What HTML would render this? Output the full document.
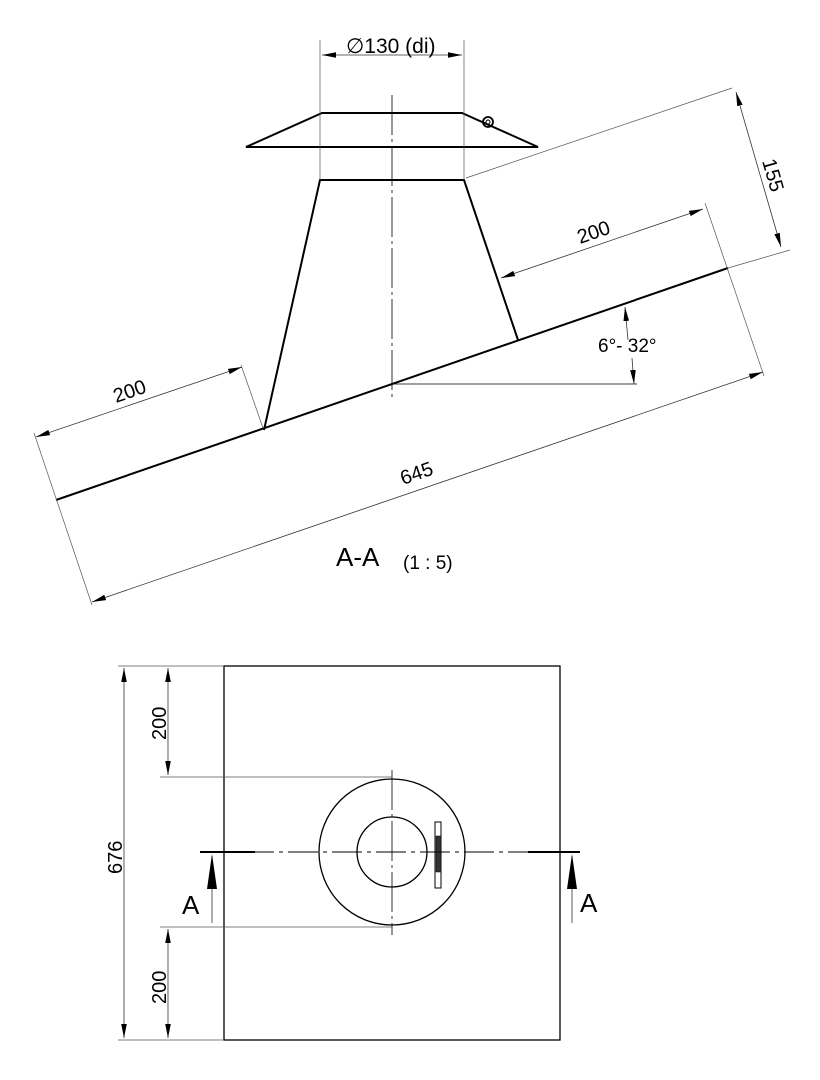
<!DOCTYPE html>
<html><head><style>html,body{margin:0;padding:0;background:#fff}svg{display:block}</style></head>
<body>
<svg width="820" height="1080" viewBox="0 0 820 1080" xmlns="http://www.w3.org/2000/svg" font-family="Liberation Sans, sans-serif">
<defs>
<marker id="ar" viewBox="0 0 10 4" refX="10" refY="2" markerWidth="14" markerHeight="6" markerUnits="userSpaceOnUse" orient="auto-start-reverse"><path d="M0,0L10,2L0,4z" fill="#000"/></marker>
</defs>
<g stroke="#000" fill="none">
<g stroke-width="2">
<polyline points="56,500 728,268"/>
<polyline points="264,430 320,180 464,180 518,340"/>
<polygon points="246,147 322,113 462,113 538,147"/>
</g>
<line x1="392" y1="95" x2="392" y2="400" stroke-width="0.8" stroke-dasharray="40,4,3,4"/>
<line x1="392" y1="384" x2="637" y2="384" stroke-width="0.7"/>
<g stroke-width="0.7" stroke="#555">
<line x1="320" y1="40" x2="320" y2="180"/>
<line x1="464" y1="40" x2="464" y2="180"/>
<line x1="466" y1="178" x2="732" y2="88"/>
<line x1="728" y1="268" x2="790" y2="250"/>
<line x1="705" y1="203" x2="764" y2="376"/>
<line x1="34" y1="433" x2="92" y2="605"/>
<line x1="241" y1="365" x2="263" y2="428"/>
</g>
<g stroke-width="0.8" stroke="#333">
<line x1="322" y1="55" x2="462" y2="55" marker-start="url(#ar)" marker-end="url(#ar)"/>
<line x1="736" y1="92" x2="781" y2="247" marker-start="url(#ar)" marker-end="url(#ar)"/>
<line x1="501" y1="278" x2="703" y2="209" marker-start="url(#ar)" marker-end="url(#ar)"/>
<line x1="36" y1="437" x2="242" y2="367" marker-start="url(#ar)" marker-end="url(#ar)"/>
<line x1="92" y1="602" x2="763" y2="372" marker-start="url(#ar)" marker-end="url(#ar)"/>
<line x1="628" y1="340" x2="625" y2="307" marker-end="url(#ar)"/>
<line x1="632" y1="358" x2="634" y2="384" marker-end="url(#ar)"/>
</g>
<circle cx="488" cy="122" r="5" stroke-width="1.8"/>
<circle cx="488" cy="122" r="2" stroke-width="1"/>

<rect x="224" y="666" width="336" height="374" stroke-width="1.3"/>
<circle cx="392" cy="852" r="73" stroke-width="1.3"/>
<circle cx="392" cy="852" r="35" stroke-width="1.3"/>
<rect x="435" y="822" width="6" height="66" stroke-width="1"/>
<rect x="436" y="836" width="5" height="36" fill="#333" stroke-width="0.5"/>
<line x1="392" y1="770" x2="392" y2="935" stroke-width="0.8" stroke-dasharray="40,4,3,4"/>
<line x1="200" y1="852" x2="580" y2="852" stroke-width="1" stroke-dasharray="30,5,4,5"/>
<line x1="200" y1="852" x2="255" y2="852" stroke-width="2"/>
<line x1="528" y1="852" x2="580" y2="852" stroke-width="2"/>
<g stroke-width="0.7" stroke="#555">
<line x1="118" y1="666" x2="224" y2="666"/>
<line x1="118" y1="1040" x2="224" y2="1040"/>
<line x1="160" y1="777" x2="392" y2="777"/>
<line x1="160" y1="927" x2="392" y2="927"/>
</g>
<g stroke-width="0.8" stroke="#333">
<line x1="124" y1="668" x2="124" y2="1038" marker-start="url(#ar)" marker-end="url(#ar)"/>
<line x1="168" y1="668" x2="168" y2="775" marker-start="url(#ar)" marker-end="url(#ar)"/>
<line x1="168" y1="929" x2="168" y2="1038" marker-start="url(#ar)" marker-end="url(#ar)"/>
<line x1="212" y1="923" x2="212" y2="856"/>
<line x1="572" y1="923" x2="572" y2="856"/>
</g>
<polygon points="212,854 207,889 217,889" fill="#000" stroke="none"/>
<polygon points="572,854 567,889 577,889" fill="#000" stroke="none"/>
</g>
<g fill="#000" font-size="20">
<text x="346" y="53" font-size="21">∅130 (di)</text>
<text x="0" y="0" transform="translate(762,161) rotate(74)">155</text>
<text x="0" y="0" transform="translate(580,244) rotate(-19)">200</text>
<text x="0" y="0" transform="translate(116,403) rotate(-19)">200</text>
<text x="0" y="0" transform="translate(403,485) rotate(-19)">645</text>
<text x="598" y="352" font-size="19">6°- 32°</text>
<text x="336" y="566" font-size="26">A-A</text>
<text x="403" y="569" font-size="19">(1 : 5)</text>
<text x="0" y="0" transform="translate(122,874) rotate(-90)">676</text>
<text x="0" y="0" transform="translate(166,740) rotate(-90)">200</text>
<text x="0" y="0" transform="translate(166,1004) rotate(-90)">200</text>
<text x="182" y="914" font-size="26">A</text>
<text x="580" y="912" font-size="26">A</text>
</g>
</svg>
</body></html>
